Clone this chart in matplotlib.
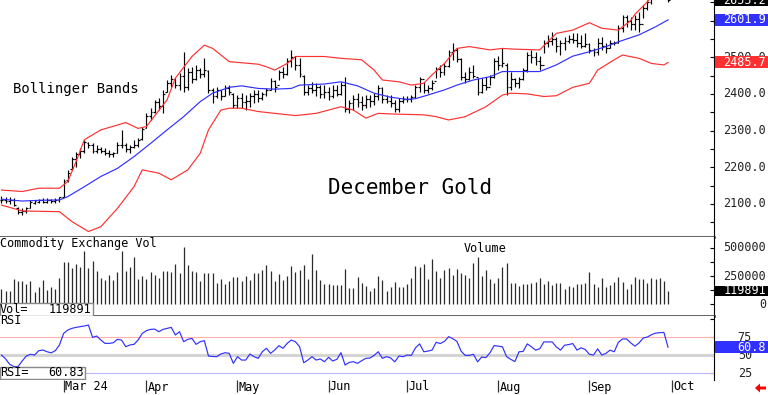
import numpy as np
import matplotlib
matplotlib.use('Agg')
import matplotlib.pyplot as plt
import matplotlib.transforms as mtransforms
from matplotlib.patches import Rectangle, Polygon
from matplotlib.ticker import MultipleLocator, FixedLocator

# daily bars, Feb 8 .. Sep 30 2024 (trading days only)
opens = [2110, 2112, 2108, 2110, 2090, 2078, 2082, 2090, 2104, 2106,
         2110, 2106, 2112, 2108, 2110, 2120, 2165, 2195, 2222, 2235,
         2245, 2266, 2260, 2245, 2250, 2245, 2240, 2236, 2240, 2262,
         2260, 2250, 2256, 2262, 2278, 2308, 2340, 2352, 2378, 2366,
         2405, 2430, 2440, 2425, 2450, 2420, 2460, 2440, 2465, 2455,
         2462, 2410, 2395, 2410, 2395, 2415, 2400, 2370, 2390, 2378,
         2380, 2395, 2400, 2390, 2400, 2410, 2435, 2425, 2460, 2455,
         2490, 2500, 2480, 2450, 2405, 2415, 2410, 2420, 2400, 2405,
         2395, 2410, 2400, 2425, 2360, 2375, 2385, 2378, 2370, 2385,
         2380, 2395, 2415, 2385, 2380, 2375, 2360, 2380, 2385, 2386,
         2392, 2420, 2440, 2410, 2415, 2435, 2468, 2460, 2475, 2515,
         2520, 2495, 2445, 2440, 2460, 2445, 2405, 2425, 2420, 2445,
         2490, 2480, 2480, 2420, 2440, 2430, 2440, 2465, 2505, 2500,
         2490, 2480, 2540, 2545, 2550, 2530, 2540, 2545, 2550, 2548,
         2540, 2530, 2535, 2520, 2515, 2540, 2530, 2525, 2538, 2540,
         2580, 2610, 2600, 2590, 2605, 2590, 2635, 2650, 2668, 2680,
         2690, 2670]
highs = [2121, 2119, 2118, 2116, 2092, 2090, 2092, 2110, 2112, 2114,
         2115, 2116, 2114, 2117, 2120, 2168, 2192, 2229, 2243, 2252,
         2275, 2270, 2265, 2261, 2256, 2252, 2247, 2243, 2270, 2302,
         2265, 2261, 2275, 2279, 2311, 2347, 2361, 2384, 2388, 2411,
         2438, 2452, 2443, 2456, 2515, 2470, 2474, 2479, 2470, 2497,
         2465, 2415, 2420, 2411, 2424, 2424, 2402, 2397, 2402, 2397,
         2402, 2411, 2411, 2406, 2415, 2443, 2438, 2465, 2474, 2497,
         2520, 2502, 2497, 2452, 2424, 2433, 2429, 2424, 2424, 2420,
         2424, 2424, 2433, 2447, 2384, 2397, 2402, 2393, 2397, 2397,
         2402, 2424, 2420, 2397, 2397, 2384, 2388, 2393, 2393, 2397,
         2424, 2447, 2433, 2424, 2438, 2474, 2479, 2483, 2520, 2538,
         2524, 2497, 2461, 2474, 2479, 2443, 2443, 2447, 2452, 2497,
         2502, 2524, 2484, 2461, 2443, 2447, 2470, 2515, 2520, 2515,
         2502, 2547, 2561, 2570, 2556, 2547, 2556, 2561, 2565, 2565,
         2561, 2565, 2538, 2524, 2552, 2556, 2538, 2547, 2543, 2588,
         2615, 2615, 2611, 2615, 2624, 2642, 2656, 2675, 2690, 2705,
         2710, 2678]
lows = [2104, 2103, 2100, 2095, 2072, 2070, 2076, 2088, 2100, 2102,
        2102, 2103, 2102, 2104, 2106, 2118, 2160, 2193, 2202, 2225,
        2238, 2252, 2238, 2238, 2238, 2234, 2229, 2229, 2238, 2252,
        2243, 2238, 2252, 2256, 2275, 2306, 2329, 2347, 2356, 2347,
        2406, 2420, 2415, 2411, 2406, 2411, 2429, 2438, 2443, 2447,
        2402, 2374, 2388, 2384, 2393, 2397, 2361, 2361, 2361, 2356,
        2365, 2374, 2379, 2384, 2393, 2411, 2406, 2438, 2443, 2452,
        2474, 2465, 2447, 2397, 2397, 2402, 2393, 2388, 2388, 2384,
        2388, 2393, 2397, 2352, 2347, 2356, 2365, 2356, 2361, 2365,
        2370, 2384, 2374, 2374, 2365, 2352, 2352, 2374, 2379, 2379,
        2388, 2406, 2402, 2402, 2411, 2443, 2447, 2452, 2474, 2493,
        2488, 2438, 2429, 2438, 2443, 2397, 2402, 2411, 2424, 2443,
        2465, 2474, 2397, 2411, 2418, 2415, 2438, 2461, 2483, 2479,
        2465, 2511, 2529, 2533, 2515, 2506, 2520, 2538, 2538, 2529,
        2524, 2529, 2511, 2502, 2506, 2520, 2511, 2524, 2533, 2538,
        2570, 2583, 2574, 2574, 2570, 2606, 2629, 2645, 2660, 2668,
        2665, 2650]
closes = [2112, 2108, 2110, 2098, 2078, 2082, 2088, 2105, 2108, 2110,
          2106, 2112, 2109, 2112, 2118, 2163, 2185, 2222, 2235, 2245,
          2268, 2262, 2245, 2250, 2244, 2240, 2236, 2240, 2262, 2262,
          2250, 2256, 2262, 2275, 2305, 2340, 2352, 2378, 2366, 2400,
          2430, 2440, 2425, 2450, 2420, 2460, 2440, 2465, 2455, 2465,
          2410, 2395, 2412, 2395, 2415, 2405, 2370, 2390, 2378, 2380,
          2395, 2400, 2390, 2400, 2410, 2435, 2420, 2460, 2455, 2490,
          2500, 2480, 2455, 2405, 2415, 2410, 2420, 2400, 2405, 2395,
          2410, 2400, 2425, 2360, 2375, 2385, 2378, 2370, 2385, 2380,
          2395, 2415, 2385, 2380, 2375, 2360, 2380, 2385, 2386, 2392,
          2420, 2440, 2410, 2415, 2430, 2468, 2460, 2475, 2515, 2520,
          2495, 2445, 2440, 2460, 2450, 2405, 2425, 2420, 2445, 2490,
          2480, 2485, 2420, 2440, 2430, 2440, 2465, 2505, 2500, 2490,
          2478, 2540, 2545, 2550, 2530, 2540, 2545, 2550, 2548, 2540,
          2530, 2535, 2520, 2515, 2540, 2530, 2525, 2540, 2540, 2580,
          2610, 2600, 2590, 2605, 2590, 2635, 2650, 2668, 2680, 2690,
          2675, 2655.2]
volumes = [137000, 123000, 123000, 225000, 211000, 211000, 181000, 211000, 108000, 152000,
           216000, 132000, 152000, 137000, 234000, 380000, 374000, 322000, 354000, 330000,
           477000, 325000, 386000, 295000, 234000, 219000, 263000, 219000, 287000, 477000,
           292000, 330000, 424000, 225000, 254000, 225000, 284000, 263000, 234000, 298000,
           292000, 287000, 360000, 278000, 506000, 351000, 298000, 287000, 205000, 278000,
           278000, 278000, 190000, 228000, 184000, 205000, 243000, 243000, 211000, 254000,
           213000, 278000, 278000, 301000, 351000, 292000, 205000, 272000, 219000, 249000,
           336000, 287000, 307000, 345000, 228000, 444000, 307000, 219000, 181000, 181000,
           175000, 175000, 175000, 316000, 146000, 146000, 243000, 190000, 161000, 123000,
           146000, 254000, 219000, 122000, 159000, 202000, 151000, 151000, 179000, 236000,
           344000, 330000, 358000, 222000, 401000, 293000, 236000, 307000, 321000, 259000,
           315000, 278000, 264000, 236000, 364000, 420000, 250000, 301000, 222000, 193000,
           236000, 330000, 369000, 188000, 193000, 165000, 179000, 179000, 193000, 199000,
           236000, 179000, 207000, 170000, 188000, 188000, 136000, 165000, 151000, 185000,
           185000, 193000, 284000, 179000, 159000, 236000, 151000, 170000, 202000, 244000,
           199000, 136000, 179000, 244000, 222000, 222000, 188000, 236000, 222000, 236000,
           207000, 119891]
rsi = [50, 44.5, 37, 34, 34, 41.7, 48.6, 51, 50, 56,
       57, 54.6, 53, 56, 64, 80, 84.7, 87, 88.4, 89.4,
       90.3, 91.7, 74.5, 76.4, 70.8, 66.2, 66.2, 67, 71.8, 70.8,
       61.6, 63.9, 64.8, 70.8, 80, 83.8, 85.6, 86, 82.4, 85.6,
       87, 88.4, 77.8, 82.4, 68.5, 71.8, 73.1, 64.8, 68.5, 69.9,
       48.6, 48, 47.7, 51.4, 53.2, 52.3, 38.4, 47.7, 43, 43,
       51.4, 47.7, 45.4, 54.6, 59.3, 52.3, 57, 63, 59.3, 66.2,
       70.8, 68.5, 61.6, 39.3, 43, 47.7, 43, 44.5, 40.7, 46.8,
       41.7, 44, 53.2, 36.1, 39.8, 40.7, 38.4, 42.1, 45.4, 45.8,
       49.5, 54.6, 45.4, 47.7, 45.9, 40.5, 48.6, 47.7, 50, 49.5,
       60, 65.5, 54.5, 55.5, 56.8, 67.7, 65.9, 69, 75.5, 72.7,
       69, 55.5, 49.5, 49.5, 51, 40.5, 47.3, 46.4, 53.2, 63.2,
       62.3, 61.4, 47.7, 44, 40.9, 54.5, 55, 65.5, 61.4, 56.8,
       58.6, 68.2, 68.2, 68.2, 61.4, 56.8, 63.6, 64.5, 65.9, 56.8,
       60, 57.7, 51, 50, 58.6, 50, 52.3, 56.8, 54.5, 67.7,
       72.3, 72.3, 66.8, 62.3, 66.8, 73.6, 75, 78.2, 80.5, 80.9,
       81.4, 60.83]

# bollinger bands at a subset of bars
mid_idx = [0, 5, 9, 14, 16, 20, 24, 28, 32, 36, 40, 44, 48, 51, 55, 58, 62, 66, 70, 72,
           78, 82, 86, 90, 94, 98, 100, 103, 107, 110, 114, 118, 121, 124, 130, 134, 138,
           142, 146, 149, 154, 158, 161]
mid_band = [2113, 2108, 2110, 2111, 2120, 2147, 2175, 2197, 2229, 2265, 2302, 2338, 2379,
            2402, 2418, 2422, 2415, 2413, 2415, 2424, 2427, 2433, 2422, 2402, 2391, 2385,
            2387, 2397, 2411, 2424, 2438, 2447, 2461, 2461, 2461, 2479, 2503, 2515, 2529,
            2542, 2561, 2583, 2601.9]
upper_idx = [0, 5, 9, 14, 16, 18, 20, 24, 28, 30, 33, 35, 40, 42, 46, 49, 51, 55, 58, 62,
             64, 66, 69, 71, 78, 82, 87, 90, 92, 96, 99, 102, 104, 107, 110, 113, 118, 121,
             124, 130, 134, 138, 142, 145, 149, 152, 153, 156, 161]
upper_band = [2138, 2134, 2143, 2143, 2161, 2215, 2275, 2302, 2315, 2322, 2306, 2311, 2384,
              2443, 2502, 2533, 2524, 2488, 2485, 2481, 2474, 2465, 2483, 2502, 2502, 2497,
              2493, 2465, 2438, 2433, 2424, 2429, 2452, 2483, 2524, 2529, 2520, 2524, 2522,
              2520, 2565, 2574, 2594, 2579, 2574, 2600, 2617, 2651, 2720]
lower_idx = [0, 5, 14, 17, 21, 24, 28, 32, 34, 38, 41, 45, 48, 50, 53, 55, 58, 62, 66, 71,
             76, 82, 85, 88, 91, 95, 102, 105, 108, 112, 117, 121, 123, 127, 131, 134, 138,
             142, 144, 148, 150, 154, 157, 160, 161]
lower_band = [2097, 2081, 2079, 2052, 2025, 2038, 2088, 2147, 2193, 2184, 2166, 2193, 2238,
              2302, 2356, 2361, 2361, 2352, 2347, 2341, 2347, 2365, 2356, 2334, 2347, 2345,
              2343, 2338, 2329, 2338, 2365, 2397, 2402, 2400, 2393, 2395, 2418, 2429, 2465,
              2493, 2506, 2497, 2483, 2479, 2485.7]

month_idx = [15, 35, 57, 79, 98, 120, 142, 162]
month_labels = ['Mar 24', 'Apr', 'May', 'Jun', 'Jul', 'Aug', 'Sep', 'Oct']
price_ticks = [2100, 2200, 2300, 2400, 2500, 2600]
vol_ticks = [0, 250000, 500000]
rsi_ticks = [25, 50, 75]

RED = '#ff3030'
BLUE = '#3030ff'
W, H = 768, 395

plt.rcParams['font.family'] = ['DejaVu Sans Mono', 'DejaVu Sans']
plt.rcParams['font.size'] = 8.5

fig = plt.figure(figsize=(W / 100, H / 100), dpi=100)
right = 714 / W
ax = fig.add_axes([0, 1 - 237 / H, right, 237 / H])
ax_vol = fig.add_axes([0, 1 - 316 / H, right, 79 / H], sharex=ax)
ax_rsi = fig.add_axes([0, 1 - 380 / H, right, 64 / H], sharex=ax)

x = np.arange(len(closes))
ax.set_xlim(-0.36, 172.1)
ax.set_ylim(2010, 2656)
ax_vol.set_ylim(-102000, 597000)
ax_rsi.set_ylim(15.3, 104.2)

# price bars
ax.vlines(x, lows, highs, color='black', lw=0.85)
ax.hlines(opens, x - 0.45, x, color='black', lw=0.85)
ax.hlines(closes, x, x + 0.45, color='black', lw=0.85)
ax.plot(upper_idx, upper_band, color=RED, lw=0.85)
ax.plot(lower_idx, lower_band, color=RED, lw=0.85)
ax.plot(mid_idx, mid_band, color=BLUE, lw=0.85)

ax.text(13 / 714, 1 - 89 / 237, 'Bollinger Bands', transform=ax.transAxes,
        fontsize=10, va='center', ha='left')
ax.text(328 / 714, 1 - 188 / 237, 'December Gold', transform=ax.transAxes,
        fontsize=15, va='center', ha='left')

# volume
ax_vol.vlines(x, 0, volumes, color='#2a2a2a', lw=0.9)
ax_vol.text(0.0, 1 - 6.5 / 79, 'Commodity Exchange Vol', transform=ax_vol.transAxes,
            va='center', ha='left')
ax_vol.text(485 / 714, 1 - 11 / 79, 'Volume', transform=ax_vol.transAxes,
            va='center', ha='center')
ax_vol.add_patch(Rectangle((0, 0), 93 / 714, 13 / 79, transform=ax_vol.transAxes,
                           facecolor='white', edgecolor='#888888', lw=1.0, zorder=5))
ax_vol.text(0.0, 6.5 / 79, 'Vol=', transform=ax_vol.transAxes, va='center', ha='left', zorder=6)
ax_vol.text(91 / 714, 6.5 / 79, str(volumes[-1]), transform=ax_vol.transAxes,
            va='center', ha='right', zorder=6)

# rsi
ax_rsi.axhline(75, color='#ffb0b0', lw=0.8)
ax_rsi.axhline(50, color='#d4d4d4', lw=2.2)
ax_rsi.axhline(25, color='#b8b8ff', lw=0.8)
ax_rsi.plot(x, rsi, color=BLUE, lw=0.85)
ax_rsi.text(0.0, 1 - 4.5 / 64, 'RSI', transform=ax_rsi.transAxes, va='center', ha='left')
ax_rsi.add_patch(Rectangle((0, 1 / 64), 85 / 714, 12 / 64, transform=ax_rsi.transAxes,
                           facecolor='white', edgecolor='#888888', lw=1.0, zorder=5))
ax_rsi.text(0.0, 7 / 64, 'RSI=', transform=ax_rsi.transAxes, va='center', ha='left', zorder=6)
ax_rsi.text(84 / 714, 7 / 64, '%.2f' % rsi[-1], transform=ax_rsi.transAxes,
            va='center', ha='right', zorder=6)

# frames and ticks
for a in (ax, ax_vol, ax_rsi):
    a.spines['top'].set_visible(False)
    a.spines['left'].set_visible(False)
    a.spines['right'].set_linewidth(0.8)
    a.yaxis.tick_right()
    a.tick_params(axis='y', which='both', direction='in', length=3, width=0.8,
                  labelright=False, labelleft=False)
    a.tick_params(axis='x', which='both', bottom=False, labelbottom=False)
for a in (ax, ax_vol):
    a.spines['bottom'].set_linewidth(1.8)
    a.spines['bottom'].set_color('#333333')
ax_rsi.spines['bottom'].set_visible(False)

ax.yaxis.set_major_locator(MultipleLocator(100))
ax.yaxis.set_minor_locator(MultipleLocator(50))
ax_vol.yaxis.set_major_locator(MultipleLocator(125000))
ax_rsi.yaxis.set_major_locator(FixedLocator([25, 50, 75, 100]))

# month ticks below the rsi panel
ax_rsi.set_xticks(month_idx)
ax_rsi.tick_params(axis='x', bottom=True, direction='out', length=8.6, width=0.9,
                   color='#333333', labelbottom=False)
for m, lab in zip(month_idx, month_labels):
    ax_rsi.text(m + 0.3, -7 / 64, lab, transform=ax_rsi.get_xaxis_transform(),
                va='center', ha='left', clip_on=False)

# right-hand scale labels
for a, ticks, fmt, xr in ((ax, price_ticks, '%.1f', 766), (ax_vol, vol_ticks, '%d', 766),
                          (ax_rsi, rsi_ticks, '%d', 752)):
    tr = mtransforms.blended_transform_factory(a.transAxes, a.transData)
    for t in ticks:
        a.text(xr / 714, t, fmt % t, transform=tr, va='center', ha='right',
               color='#222222', clip_on=False)


def side_box(a, value, label, face, height=12):
    """coloured value marker on the right-hand scale"""
    y = a.transData.transform((0, value))[1]
    fig.patches.append(Rectangle((715 / W, (y - height / 2) / H), 53 / W, height / H,
                                 transform=fig.transFigure, facecolor=face,
                                 edgecolor='none', zorder=4))
    fig.text(766 / W, y / H, label, color='white', va='center', ha='right', zorder=5)


side_box(ax, closes[-1], '%.1f' % closes[-1], 'black')
side_box(ax, mid_band[-1], '%.1f' % mid_band[-1], BLUE)
side_box(ax, lower_band[-1], '%.1f' % lower_band[-1], RED)
side_box(ax_vol, volumes[-1], str(volumes[-1]), 'black', height=10)
side_box(ax_rsi, rsi[-1], '%.1f' % rsi[-1], BLUE)

# little red arrow in the corner
pts = [(755, 388), (760, 383.5), (760, 386.5), (766, 386.5), (766, 389.5), (760, 389.5),
       (760, 392.5)]
fig.patches.append(Polygon([(px / W, 1 - py / H) for px, py in pts], closed=True,
                           transform=fig.transFigure, facecolor='red', edgecolor='none'))

fig.savefig('out.png', dpi=100)
